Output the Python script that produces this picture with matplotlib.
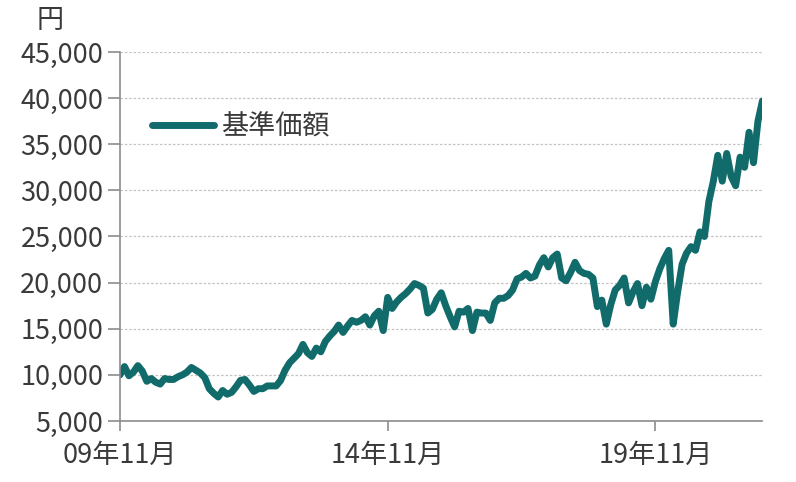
import matplotlib
matplotlib.use('Agg')
import matplotlib.pyplot as plt
import matplotlib.ticker as mticker

plt.rcParams['font.family'] = ['Noto Sans CJK JP', 'DejaVu Sans']

# monthly NAV, 2009/11 .. 2021/11
nav = [
    10000, 10900, 9900, 10300, 11000, 10400, 9300, 9600, 9200, 9000,
    9600, 9500, 9500, 9800, 10000, 10300, 10800, 10500, 10200, 9700,
    8500, 8000, 7600, 8300, 7900, 8100, 8700, 9400, 9500, 8900,
    8200, 8500, 8500, 8800, 8800, 8800, 9400, 10500, 11300, 11800,
    12300, 13300, 12400, 12000, 12900, 12500, 13600, 14200, 14700, 15400,
    14600, 15300, 15900, 15700, 15900, 16300, 15400, 16400, 16900, 14800,
    18400, 17200, 17900, 18400, 18800, 19300, 19900, 19700, 19400, 16700,
    17100, 18200, 18900, 17500, 16300, 15200, 16900, 16800, 17200, 14800,
    16800, 16700, 16700, 15900, 17800, 18300, 18300, 18600, 19200, 20400,
    20600, 21000, 20500, 20700, 21900, 22700, 21700, 22700, 23100, 20500,
    20200, 21100, 22200, 21300, 21000, 20900, 20500, 17400, 18100, 15500,
    17600, 19200, 19700, 20500, 17800, 19000, 19900, 17500, 19500, 18200,
    20100, 21500, 22600, 23500, 15500, 19000, 22000, 23200, 23900, 23500,
    25500, 25000, 28800, 31000, 33800, 31000, 34000, 31500, 30500, 33600,
    32500, 36300, 33000, 37500, 39700,
]
months = list(range(len(nav)))

tick_pos = [0, 60, 120]
tick_labels = ['09年11月', '14年11月', '19年11月']
y_ticks = list(range(5000, 45001, 5000))

teal = '#126B6B'
txt = '#3a3a3a'

fig = plt.figure(figsize=(7.96, 4.82), dpi=100)
ax = fig.add_axes([0.1508, 0.1266, 0.807, 0.7655])

ax.plot(months, nav, color=teal, linewidth=5, solid_joinstyle='round',
        solid_capstyle='round', label='基準価額')

ax.set_xlim(0, 144)
ax.set_ylim(5000, 45000)
ax.set_yticks(y_ticks)
ax.yaxis.set_major_formatter(mticker.FuncFormatter(lambda v, p: f'{v:,.0f}'))
ax.set_xticks(tick_pos)
ax.set_xticklabels(tick_labels)

ax.grid(axis='y', linestyle=(0, (2, 1.5)), color='#c4c4c4', linewidth=0.9)
ax.set_axisbelow(True)
for s in ['top', 'right']:
    ax.spines[s].set_visible(False)
for s in ['left', 'bottom']:
    ax.spines[s].set_color('#8c8c8c')
    ax.spines[s].set_linewidth(1.2)
ax.tick_params(axis='y', length=9, width=1.2, color='#8c8c8c', pad=3,
               labelsize=19.5, labelcolor=txt)
ax.tick_params(axis='x', length=7, width=1.2, color='#8c8c8c', pad=8,
               labelsize=19.5, labelcolor=txt)

fig.text(0.063, 0.958, '円', fontsize=19.5, color=txt, ha='center', va='center')

leg = ax.legend(loc='center left', bbox_to_anchor=(0.05, 0.797), frameon=False,
                fontsize=19.5, handlelength=2.3, handletextpad=0.25, labelcolor=txt,
                borderaxespad=0, borderpad=0)

fig.savefig('out.png', dpi=100)
